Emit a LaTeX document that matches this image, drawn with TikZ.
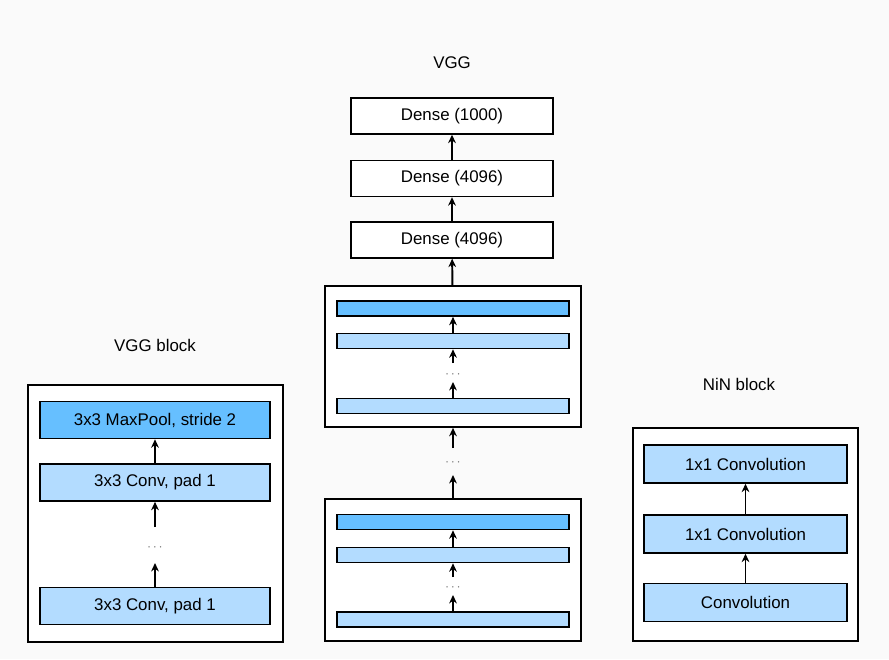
\documentclass[tikz,border=0pt]{standalone}
\usepackage{fontspec}
\setmainfont{Liberation Sans}
\usetikzlibrary{arrows.meta}
\definecolor{bgcol}{HTML}{FAFAFA}
\definecolor{convblue}{HTML}{B3DCFF}
\definecolor{poolblue}{HTML}{66BFFF}
\begin{document}
\begin{tikzpicture}[x=0.025cm,y=-0.025cm,
    font=\fontsize{12}{14}\selectfont,
    frame/.style={draw,line width=1.2pt,fill=white,inner sep=0pt},
    layer/.style={draw,line width=1pt,inner sep=0pt,minimum width=5.75cm,minimum height=0.93cm},
    bar/.style={draw,line width=1pt,inner sep=0pt,minimum width=5.8cm,minimum height=0.38cm},
    conv/.style={fill=convblue},
    pool/.style={fill=poolblue},
    dots/.style={text=black!60,font=\small,inner sep=0pt},
    flow/.style={line width=1.4pt,-{Stealth[length=6pt,width=5.5pt]}}]
    % Background
    \fill[bgcol] (0,0) rectangle (889,659);
    \useasboundingbox (0,0) rectangle (889,659);

    % VGG block
    \node (vbtitle) at (155,345) {VGG block};
    \node[frame,minimum width=6.375cm,minimum height=6.425cm] (vbframe) at (155.5,513.5) {};
    \node[layer,pool] (vbpool) at (155,420) {3x3 MaxPool, stride 2};
    \node[layer,conv] (vbconv1) at (155,482.5) {3x3 Conv, pad 1};
    \node[dots] (vbdots) at (155,548) {$\cdots$};
    \node[layer,conv] (vbconv0) at (155,606) {3x3 Conv, pad 1};
    \coordinate (vbd1) at (155,527);
    \coordinate (vbd0) at (155,563);
    \draw[flow] (vbconv1) -- (vbpool);
    \draw[flow] (vbd1) -- (vbconv1);
    \draw[flow] (vbconv0) -- (vbd0);

    % VGG
    \node (vggtitle) at (452,63) {VGG};
    \node[layer,minimum width=5.05cm,minimum height=0.9cm,fill=white] (dense3) at (452,116) {Dense (1000)};
    \node[layer,minimum width=5.05cm,minimum height=0.9cm,fill=white] (dense2) at (452,178.5) {Dense (4096)};
    \node[layer,minimum width=5.05cm,minimum height=0.9cm,fill=white] (dense1) at (452,240) {Dense (4096)};
    \draw[flow] (dense2) -- (dense3);
    \draw[flow] (dense1) -- (dense2);

    % upper block
    \node[frame,minimum width=6.4cm,minimum height=3.525cm] (upframe) at (453,356.5) {};
    \node[bar,pool] (upb1) at (453,308.5) {};
    \node[bar,conv] (upb2) at (453,341) {};
    \node[dots] (updots) at (453,375) {$\cdots$};
    \node[bar,conv] (upb3) at (453,406) {};
    \coordinate (upd1) at (453,363);
    \coordinate (upd0) at (453,382);
    \draw[flow] (upb2) -- (upb1);
    \draw[flow] (upd1) -- (upb2);
    \draw[flow] (upb3) -- (upd0);
    \draw[flow] (upframe) -- (dense1);

    % between blocks
    \node[dots] (middots) at (453,463) {$\cdots$};
    \coordinate (midd1) at (453,448);
    \coordinate (midd0) at (453,475);

    % lower block
    \node[frame,minimum width=6.4cm,minimum height=3.55cm] (loframe) at (453,570) {};
    \node[bar,pool] (lob1) at (453,522) {};
    \node[bar,conv] (lob2) at (453,555) {};
    \node[dots] (lodots) at (453,588) {$\cdots$};
    \node[bar,conv] (lob3) at (453,619.5) {};
    \coordinate (lod1) at (453,577);
    \coordinate (lod0) at (453,595);
    \draw[flow] (lob2) -- (lob1);
    \draw[flow] (lod1) -- (lob2);
    \draw[flow] (lob3) -- (lod0);
    \draw[flow] (midd1) -- (upframe);
    \draw[flow] (loframe) -- (midd0);

    % NiN block
    \node (nintitle) at (739,384) {NiN block};
    \node[frame,minimum width=5.625cm,minimum height=5.325cm] (ninframe) at (745.5,534.5) {};
    \node[layer,conv,minimum width=5.075cm,minimum height=0.95cm] (nin3) at (745.5,464) {1x1 Convolution};
    \node[layer,conv,minimum width=5.075cm,minimum height=0.95cm] (nin2) at (745.5,534) {1x1 Convolution};
    \node[layer,conv,minimum width=5.075cm,minimum height=0.95cm] (nin1) at (745.5,602.5) {Convolution};
    \draw[flow] (nin2) -- (nin3);
    \draw[flow] (nin1) -- (nin2);
\end{tikzpicture}
\end{document}
